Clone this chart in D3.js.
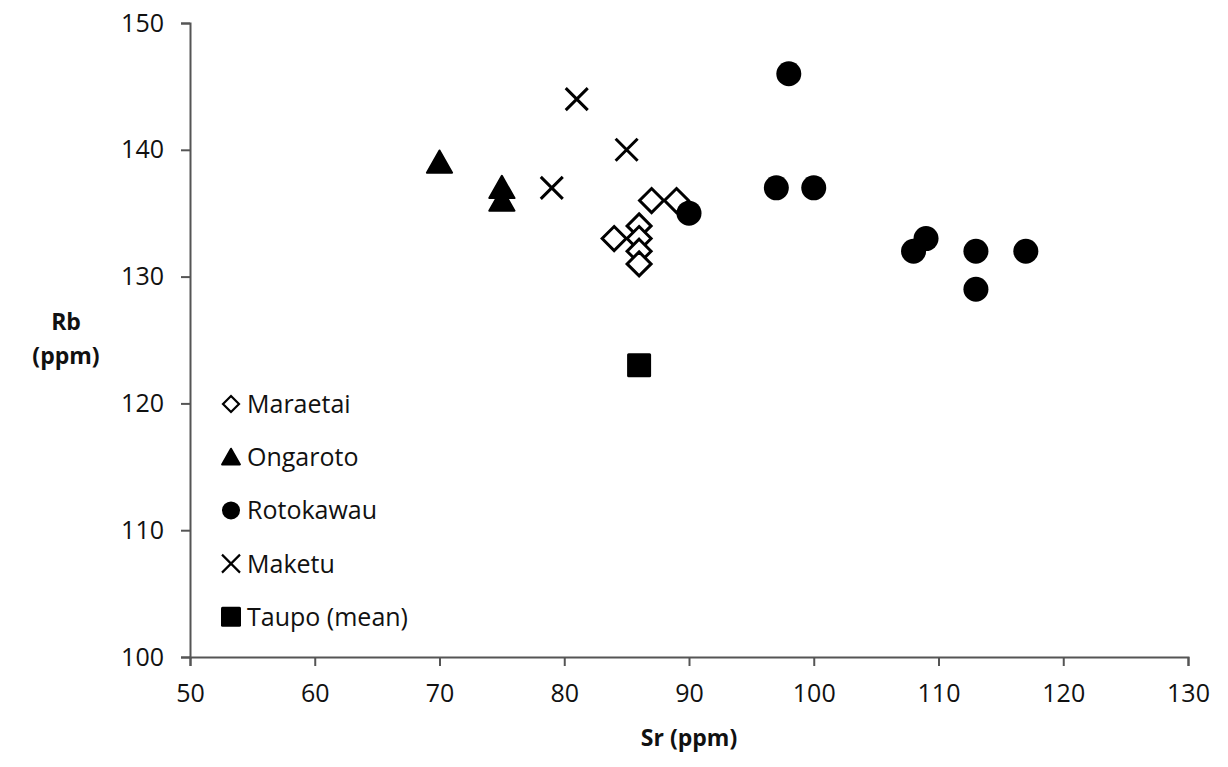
<!DOCTYPE html>
<html><head><meta charset="utf-8">
<script src="https://cdn.jsdelivr.net/npm/d3@7"></script>
<style>body{margin:0;background:#fff}text{font-family:"Open Sans",sans-serif}</style>
</head><body><svg id="c" width="1228" height="767"></svg>
<script>
const xTicks = [50,60,70,80,90,100,110,120,130];
const yTicks = [100,110,120,130,140,150];
const maraetai = [[84,133],[86,134],[86,133],[86,132],[86,131],[87,136],[89,136]];
const ongaroto = [[70,139],[75,137],[75,136]];
const rotokawau = [[98,146],[97,137],[100,137],[90,135],[108,132],[109,133],[113,132],[117,132],[113,129]];
const maketu = [[81,144],[85,140],[79,137]];
const taupo = [[86,123]];
const seriesNames = ["Maraetai","Ongaroto","Rotokawau","Maketu","Taupo (mean)"];

const svg = d3.select("#c");
const x = d3.scaleLinear().domain([50,130]).range([190,1188]);
const y = d3.scaleLinear().domain([100,150]).range([657,23]);

const axCol = "#555";
const gx = svg.append("g").attr("transform","translate(0,657)")
  .call(d3.axisBottom(x).tickValues(xTicks).tickSize(9).tickPadding(18));
const gy = svg.append("g").attr("transform","translate(190,0)")
  .call(d3.axisLeft(y).tickValues(yTicks).tickSize(9).tickPadding(17));
[gx,gy].forEach(g=>{
  g.attr("font-size",null).attr("font-family",null);
  g.select(".domain").attr("stroke",axCol).attr("stroke-width",2);
  g.selectAll(".tick line").attr("stroke",axCol).attr("stroke-width",2);
  g.selectAll(".tick text").attr("fill","#111").style("font-size","25px");
});

svg.append("text").attr("x",689).attr("y",746).attr("text-anchor","middle")
  .style("font-weight","bold").style("font-size","23px").attr("fill","#111").text("Sr (ppm)");
const yl = svg.append("text").attr("text-anchor","middle").style("font-weight","bold").style("font-size","23px").attr("fill","#111");
yl.append("tspan").attr("x",66).attr("y",330).text("Rb");
yl.append("tspan").attr("x",66).attr("y",364).text("(ppm)");

function draw(g, type, s, cx, cy){
  if(type==="diamond"){
    g.append("path").attr("d",`M${cx},${cy-s}L${cx+s},${cy}L${cx},${cy+s}L${cx-s},${cy}Z`)
      .attr("fill","#fff").attr("stroke","#000").attr("stroke-width",s>9?3:2.2);
  } else if(type==="triangle"){
    g.append("path").attr("d",`M${cx},${cy-s}L${cx+s*1.05},${cy+s*0.85}L${cx-s*1.05},${cy+s*0.85}Z`)
      .attr("fill","#000").attr("stroke","#000").attr("stroke-width",2).attr("stroke-linejoin","round");
  } else if(type==="circle"){
    g.append("circle").attr("cx",cx).attr("cy",cy).attr("r",s).attr("fill","#000");
  } else if(type==="cross"){
    g.append("path").attr("d",`M${cx-s},${cy-s}L${cx+s},${cy+s}M${cx-s},${cy+s}L${cx+s},${cy-s}`)
      .attr("stroke","#000").attr("stroke-width",s>9?3:2.2);
  } else if(type==="square"){
    g.append("rect").attr("x",cx-s).attr("y",cy-s).attr("width",2*s).attr("height",2*s).attr("fill","#000").attr("rx",1.5);
  }
}
const series = [
  {data:maraetai,type:"diamond",s:12},
  {data:ongaroto,type:"triangle",s:12},
  {data:rotokawau,type:"circle",s:12.5},
  {data:maketu,type:"cross",s:11},
  {data:taupo,type:"square",s:12}
];
const pts = svg.append("g");
series.forEach(se=>se.data.forEach(d=>draw(pts,se.type,se.s,x(d[0]),y(d[1]))));

const leg = svg.append("g");
const legSize = [8,8.5,9,9,10];
series.forEach((se,i)=>{
  const cy = 404 + i*53.2;
  draw(leg,se.type,legSize[i],231,cy);
  leg.append("text").attr("x",247).attr("y",cy+9).style("font-size","25px").attr("fill","#111").text(seriesNames[i]);
});
</script></body></html>
